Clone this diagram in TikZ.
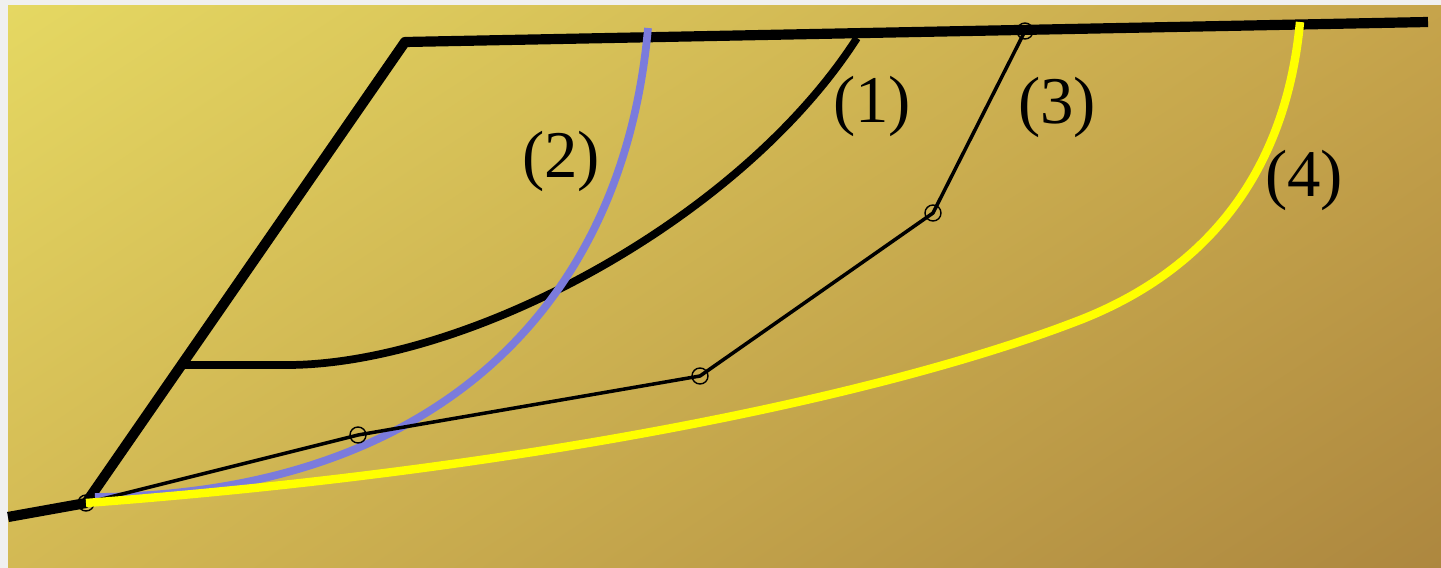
\documentclass[tikz,border=0pt]{standalone}
\usepackage{fontspec}
\setmainfont{Liberation Serif}
\usepackage{tikz}
\usetikzlibrary{shadings}
\definecolor{framegray}{HTML}{F0F0F0}
\definecolor{soilUL}{HTML}{E5D862}
\definecolor{soilUR}{HTML}{C6A44B}
\definecolor{soilLL}{HTML}{D3B954}
\definecolor{soilLR}{HTML}{AD873F}
\definecolor{slipblue}{HTML}{7B7BDC}
\definecolor{slipyellow}{HTML}{FFFF00}

\begin{document}
\begin{tikzpicture}[x=0.02cm,y=-0.02cm,
    profile/.style={line width=5.8pt,line join=round},
    circslip/.style={line width=4.4pt},
    polyslip/.style={line width=2pt,line join=round},
    joint/.style={line width=0.8pt},
    casetext/.style={font=\fontsize{38}{44}\selectfont,inner sep=0pt}]
  % background
  \fill[framegray] (0,0) rectangle (1441,568);
  \shade[upper left=soilUL,upper right=soilUR,lower left=soilLL,lower right=soilLR] (8,5) rectangle (1441,568);
  \useasboundingbox (0,0) rectangle (1441,568);
  % slope points
  \coordinate (groundL) at (8,517);
  \coordinate (toe) at (86,503);
  \coordinate (crest) at (405,42);
  \coordinate (topR) at (1428,22);
  \coordinate (s1) at (185,365);
  \coordinate (p1) at (358,435);
  \coordinate (p2) at (700,376);
  \coordinate (p3) at (933,213);
  \coordinate (p4) at (1025,31);
  % slope profile
  \draw[profile] (groundL) -- (toe) -- (crest) -- (topR);
  % slip surface (1)
  \draw[circslip] (s1) -- (290,365) .. controls (470,363) and (740,220) .. (857,38);
  % slip surface (2)
  \draw[circslip,slipblue] (95,497) .. controls (420,495) and (622,320) .. (648,28);
  % slip surface (3)
  \draw[polyslip] (toe) -- (p1) -- (p2) -- (p3) -- (p4);
  \foreach \p in {toe,p1,p2,p3,p4}
    \draw[joint] (\p) circle[radius=1.6mm];
  % slip surface (4)
  \draw[line width=4.8pt,slipyellow] (toe) .. controls (550,468) and (900,390) .. (1080,320)
    .. controls (1200,273) and (1285,180) .. (1300,22);
  % labels
  \node[casetext] (c1) at (872,106) {(1)};
  \node[casetext] (c2) at (561,161) {(2)};
  \node[casetext] (c3) at (1057,107) {(3)};
  \node[casetext] (c4) at (1304,180) {(4)};
\end{tikzpicture}
\end{document}
